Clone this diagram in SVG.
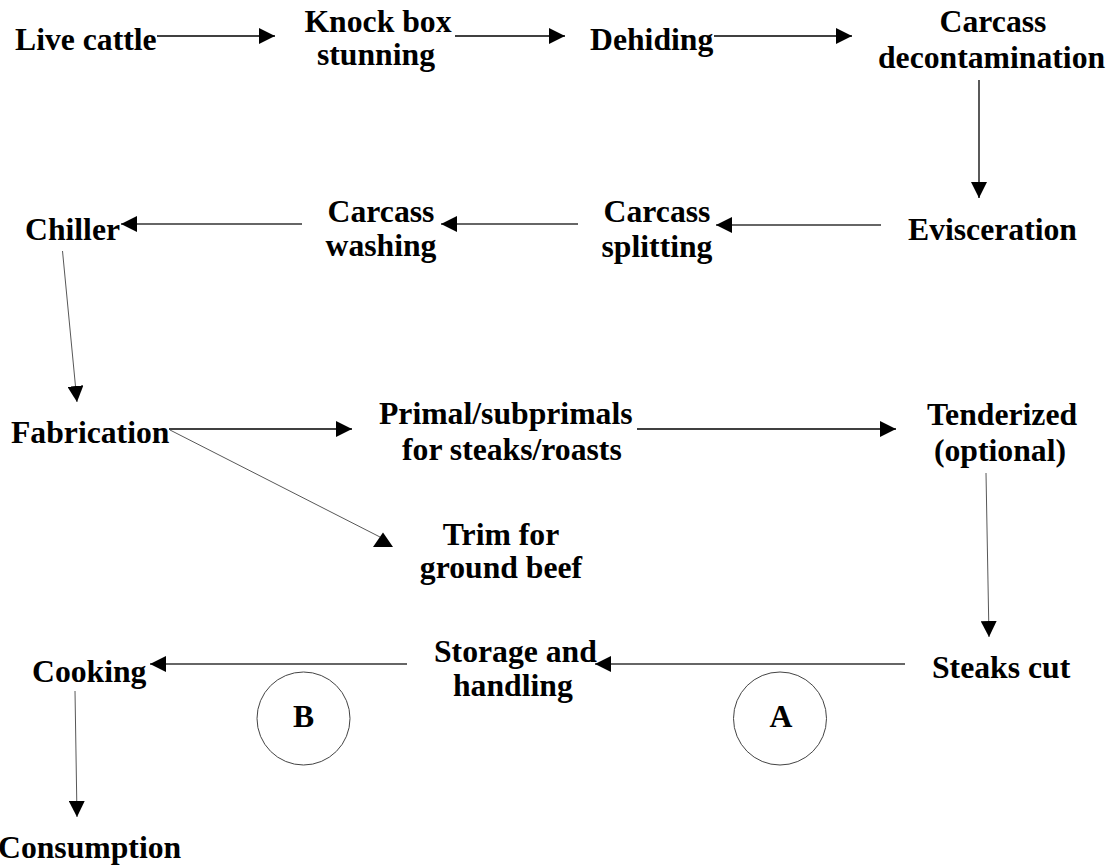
<svg xmlns="http://www.w3.org/2000/svg" width="1110" height="865" viewBox="0 0 1110 865">
<defs>
<style>
text{font-family:"Liberation Serif","Times New Roman",serif;font-weight:bold;font-size:31.7px;fill:#000}
.m{text-anchor:middle}
.c{stroke:#000;stroke-width:1.3;fill:none}
.g{stroke:#333;stroke-width:1.3;fill:none}
.t{stroke:#444;stroke-width:0.9;fill:none}
.cir{fill:none;stroke:#444;stroke-width:1}
</style>
<marker id="ah" markerUnits="userSpaceOnUse" markerWidth="16" markerHeight="16" refX="16" refY="8" orient="auto" viewBox="0 0 16 16">
<path d="M0,0 L16,8 L0,16 Z" fill="#000"/>
</marker>
</defs>
<rect width="1110" height="865" fill="#fff"/>
<g id="connectors">
<line class="c" x1="157" y1="36" x2="275" y2="36" marker-end="url(#ah)"/>
<line class="c" x1="455" y1="36" x2="565" y2="36" marker-end="url(#ah)"/>
<line class="c" x1="714" y1="36" x2="852" y2="36" marker-end="url(#ah)"/>
<line class="c" x1="979" y1="80" x2="979" y2="198" marker-end="url(#ah)"/>
<line class="g" x1="881" y1="225" x2="716" y2="225" marker-end="url(#ah)"/>
<line class="g" x1="578" y1="224" x2="441" y2="224" marker-end="url(#ah)"/>
<line class="g" x1="302" y1="224" x2="121" y2="224" marker-end="url(#ah)"/>
<line class="t" x1="62.5" y1="251" x2="77" y2="402" marker-end="url(#ah)"/>
<line class="c" x1="169" y1="429" x2="352" y2="429" marker-end="url(#ah)"/>
<line class="c" x1="637" y1="429" x2="896" y2="429" marker-end="url(#ah)"/>
<line class="t" x1="170" y1="430" x2="380" y2="537"/>
<polygon points="373,547 383,532.5 393,547" fill="#000"/>
<line class="t" x1="986" y1="473" x2="989" y2="637" marker-end="url(#ah)"/>
<line class="g" x1="905" y1="664" x2="595" y2="664" marker-end="url(#ah)"/>
<line class="g" x1="407" y1="664" x2="150" y2="664" marker-end="url(#ah)"/>
<line class="t" x1="75" y1="691" x2="77" y2="817" marker-end="url(#ah)"/>
</g>
<g id="live-cattle"><text x="15" y="50">Live cattle</text></g>
<g id="knock-box"><text class="m" x="378" y="32">Knock box</text><text class="m" x="376" y="65">stunning</text></g>
<g id="dehiding"><text x="590" y="50">Dehiding</text></g>
<g id="decontamination"><text class="m" x="993" y="32">Carcass</text><text x="878" y="68">decontamination</text></g>
<g id="evisceration"><text x="908" y="240">Evisceration</text></g>
<g id="splitting"><text class="m" x="657" y="222">Carcass</text><text class="m" x="657" y="257">splitting</text></g>
<g id="washing"><text class="m" x="381" y="222">Carcass</text><text class="m" x="381" y="256">washing</text></g>
<g id="chiller"><text x="25" y="240">Chiller</text></g>
<g id="fabrication"><text x="11" y="443">Fabrication</text></g>
<g id="primal"><text x="379" y="424">Primal/subprimals</text><text x="402" y="460">for steaks/roasts</text></g>
<g id="tenderized"><text class="m" x="1002" y="425">Tenderized</text><text class="m" x="1000" y="461">(optional)</text></g>
<g id="trim"><text class="m" x="501" y="545">Trim for</text><text class="m" x="501" y="578">ground beef</text></g>
<g id="steaks-cut"><text x="932" y="678">Steaks cut</text></g>
<g id="storage"><text x="434" y="662">Storage and</text><text x="453" y="696">handling</text></g>
<g id="cooking"><text x="32" y="682">Cooking</text></g>
<g id="consumption"><text x="-2" y="858">Consumption</text></g>
<g id="circle-a"><circle class="cir" cx="780" cy="718.5" r="46.5"/><text class="m" x="781" y="727">A</text></g>
<g id="circle-b"><circle class="cir" cx="303.5" cy="718.5" r="46.5"/><text class="m" x="303.5" y="727">B</text></g>
</svg>
